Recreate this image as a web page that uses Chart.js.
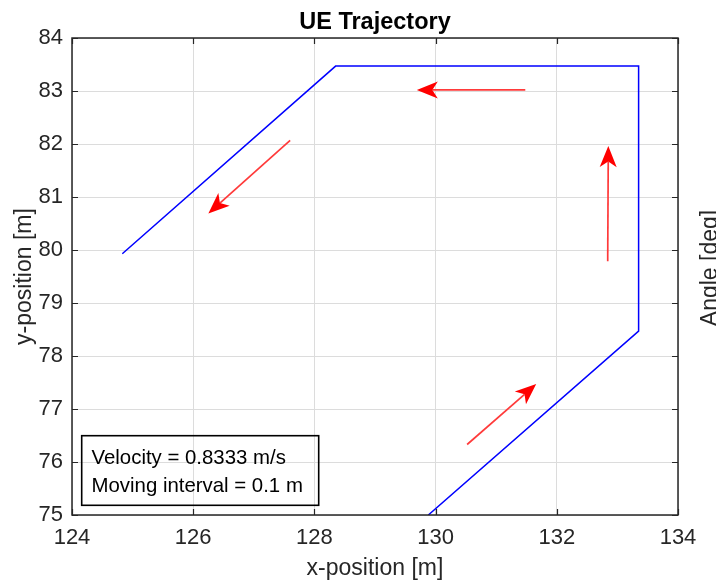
<!DOCTYPE html>
<html><head><meta charset="utf-8">
<script src="https://cdn.jsdelivr.net/npm/chart.js@4.4.1/dist/chart.umd.min.js"></script>
<style>html,body{margin:0;padding:0;background:#fff;} #c{display:block;}</style>
</head><body>
<canvas id="c" width="716" height="582"></canvas>
<script>
// ---- data ----
const pathX = [129.88, 133.35, 133.35, 128.35, 124.83];
const pathY = [75.00, 78.47, 83.47, 83.47, 79.93];
const arrowTailX = [130.52, 132.84, 131.48, 127.60];
const arrowTailY = [76.33, 79.79, 83.02, 82.07];
const arrowTipX = [131.66, 132.85, 129.69, 126.25];
const arrowTipY = [77.47, 81.96, 83.02, 80.69];
const xTickValues = [124, 126, 128, 130, 132, 134];
const yTickValues = [75, 76, 77, 78, 79, 80, 81, 82, 83, 84];
const titleText = 'UE Trajectory';
const xLabel = 'x-position [m]';
const yLabel = 'y-position [m]';
const rightLabel = 'Angle [deg]';
const infoLines = ['Velocity = 0.8333 m/s', 'Moving interval = 0.1 m'];

const FONT = "'Liberation Sans', Arial, Helvetica, sans-serif";
const AXC = '#262626';

const extras = {
  id: 'extras',
  afterDatasetsDraw(chart) {
    const ctx = chart.ctx, xs = chart.scales.x, ys = chart.scales.y;
    ctx.save();
    for (let i = 0; i < arrowTailX.length; i++) {
      const x0 = xs.getPixelForValue(arrowTailX[i]), y0 = ys.getPixelForValue(arrowTailY[i]);
      const x1 = xs.getPixelForValue(arrowTipX[i]), y1 = ys.getPixelForValue(arrowTipY[i]);
      const len = Math.hypot(x1 - x0, y1 - y0);
      const dx = (x1 - x0) / len, dy = (y1 - y0) / len;
      const nx = -dy, ny = dx;
      const L = 21, W = 8.5, N = 15.5;
      ctx.strokeStyle = '#ff3a3a';
      ctx.lineWidth = 1.7;
      ctx.beginPath();
      ctx.moveTo(x0, y0);
      ctx.lineTo(x1 - dx * N, y1 - dy * N);
      ctx.stroke();
      ctx.fillStyle = '#ff0000';
      ctx.beginPath();
      ctx.moveTo(x1, y1);
      ctx.lineTo(x1 - dx * L + nx * W, y1 - dy * L + ny * W);
      ctx.lineTo(x1 - dx * N, y1 - dy * N);
      ctx.lineTo(x1 - dx * L - nx * W, y1 - dy * L - ny * W);
      ctx.closePath();
      ctx.fill();
    }
    ctx.restore();
  },
  afterDraw(chart) {
    const ctx = chart.ctx, a = chart.chartArea, xs = chart.scales.x, ys = chart.scales.y;
    ctx.save();
    // axes box
    ctx.strokeStyle = AXC;
    ctx.lineWidth = 1.5;
    ctx.strokeRect(a.left, a.top, a.right - a.left, a.bottom - a.top);
    // inward ticks
    ctx.lineWidth = 1.2;
    const tl = 6;
    ctx.beginPath();
    xTickValues.forEach(v => {
      const p = Math.round(xs.getPixelForValue(v)) + 0.5;
      ctx.moveTo(p, a.bottom); ctx.lineTo(p, a.bottom - tl);
      ctx.moveTo(p, a.top); ctx.lineTo(p, a.top + tl);
    });
    yTickValues.forEach(v => {
      const p = Math.round(ys.getPixelForValue(v)) + 0.5;
      ctx.moveTo(a.left, p); ctx.lineTo(a.left + tl, p);
      ctx.moveTo(a.right, p); ctx.lineTo(a.right - tl, p);
    });
    ctx.stroke();
    // title
    ctx.fillStyle = '#000';
    ctx.font = 'bold 23.5px ' + FONT;
    ctx.textAlign = 'center';
    ctx.textBaseline = 'alphabetic';
    ctx.fillText(titleText, (a.left + a.right) / 2, 28.5);
    // info box
    ctx.strokeStyle = '#000';
    ctx.lineWidth = 1.6;
    ctx.strokeRect(81.7, 435.7, 237, 69.6);
    ctx.font = '20.4px ' + FONT;
    ctx.textAlign = 'left';
    ctx.fillText(infoLines[0], 91.5, 464);
    ctx.fillText(infoLines[1], 91.5, 492);
    // right label (partially cut)
    ctx.fillStyle = AXC;
    ctx.font = '23px ' + FONT;
    ctx.translate(717, 268);
    ctx.rotate(-Math.PI / 2);
    ctx.textAlign = 'center';
    ctx.fillText(rightLabel, 0, 0);
    ctx.restore();
  }
};

new Chart(document.getElementById('c'), {
  type: 'scatter',
  data: {
    datasets: [{
      data: pathX.map((x, i) => ({ x: x, y: pathY[i] })),
      showLine: true,
      borderColor: '#0000ff',
      borderWidth: 1.5,
      pointRadius: 0,
      fill: false,
      tension: 0
    }]
  },
  options: {
    responsive: false,
    animation: false,
    devicePixelRatio: 1,
    layout: { padding: { top: 38, right: 38, left: 0, bottom: 0 } },
    plugins: { legend: { display: false }, tooltip: { enabled: false }, title: { display: false } },
    scales: {
      x: {
        type: 'linear', min: 124, max: 134,
        afterBuildTicks: s => { s.ticks = xTickValues.map(v => ({ value: v })); },
        afterFit: s => { s.height = 67; },
        ticks: { font: { family: FONT, size: 22 }, color: AXC, padding: 10, maxRotation: 0, autoSkip: false },
        grid: { color: '#dcdcdc', lineWidth: 1, drawTicks: false },
        border: { display: false },
        title: { display: true, text: xLabel, font: { family: FONT, size: 23 }, color: AXC, padding: { top: 0, bottom: 0 } }
      },
      y: {
        type: 'linear', min: 75, max: 84,
        afterBuildTicks: s => { s.ticks = yTickValues.map(v => ({ value: v })); },
        afterFit: s => { s.width = 72; },
        ticks: { font: { family: FONT, size: 22 }, color: AXC, padding: 9, autoSkip: false },
        grid: { color: '#dcdcdc', lineWidth: 1, drawTicks: false },
        border: { display: false },
        title: { display: true, text: yLabel, font: { family: FONT, size: 23 }, color: AXC, padding: { top: 11, bottom: 0 } }
      }
    }
  },
  plugins: [extras]
});
</script>
</body></html>
